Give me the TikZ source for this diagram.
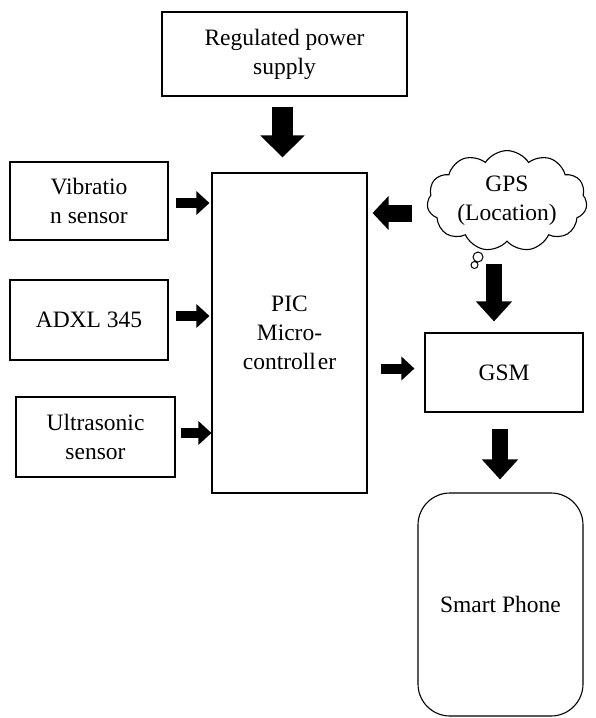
\documentclass[tikz,border=0pt]{standalone}
\usepackage{fontspec}
\setmainfont{LiberationSerif}[Extension=.ttf,UprightFont=*-Regular,BoldFont=*-Bold,ItalicFont=*-Italic]
\usetikzlibrary{arrows.meta,shapes.symbols}
\begin{document}
\begin{tikzpicture}[x=1pt,y=-1pt,
  box/.style={draw,line width=1.1pt,inner sep=0pt,align=center,font=\fontsize{23.5}{29}\selectfont},
  bigarr/.style={line width=21pt,-{Triangle[width=43pt,length=22pt]}},
  midarr/.style={line width=16pt,-{Triangle[width=35pt,length=20pt]}},
  gpsarr/.style={line width=17pt,-{Triangle[width=33pt,length=16pt]}},
  smallarr/.style={line width=10pt,-{Triangle[width=23pt,length=13pt]}}]
\useasboundingbox (0,0) rectangle (595,718);
\node[box,minimum width=245pt,minimum height=84pt] (rps) at (284.5,54) {Regulated power\\supply};
\node[box,minimum width=155pt,minimum height=320pt] (pic) at (289.5,333) {PIC\\Micro-\\controll\kern2pt er};
\node[box,minimum width=158pt,minimum height=78pt] (vib) at (89,201) {Vibratio\\n sensor};
\node[box,minimum width=158pt,minimum height=80pt] (adxl) at (89,320) {ADXL 345};
\node[box,minimum width=159pt,minimum height=80pt] (ultra) at (95.5,437) {Ultrasonic\\sensor};
\node[box,cloud,cloud puffs=11,cloud puff arc=115,aspect=1.7,minimum width=160pt,minimum height=92pt] (gps) at (507,201) {GPS\\(Location)};
\node[box,minimum width=158pt,minimum height=79pt] (gsm) at (504,372.5) {GSM};
\node[box,rounded corners=32pt,minimum width=165pt,minimum height=223pt] (phone) at (500.5,604.5) {Smart Phone};
\draw[line width=1pt] (478,257) circle (5pt) (474.5,265) circle (3.5pt);
\draw[bigarr,shorten <=10pt,shorten >=15pt] ([xshift=-2pt]rps.south) -- ([xshift=-2pt]rps.south |- pic.north);
\draw[smallarr,shorten <=7pt,shorten >=2pt] ([yshift=-2pt]vib.east) -- ([yshift=-2pt]vib.east -| pic.west);
\draw[smallarr,shorten <=7pt,shorten >=2pt] ([yshift=4pt]adxl.east) -- ([yshift=4pt]adxl.east -| pic.west);
\draw[smallarr,shorten <=5pt,shorten >=0pt] ([yshift=4pt]ultra.east) -- ([yshift=4pt]ultra.east -| pic.west);
\draw[gpsarr,shorten <=15pt,shorten >=5pt] ([yshift=-12pt]gps.west) -- ([yshift=-12pt]gps.west -| pic.east);
\draw[midarr,shorten <=22pt,shorten >=11pt] ([xshift=-13pt]gps.south) -- ([xshift=-13pt]gps.south |- gsm.north);
\draw[smallarr,shorten <=13pt,shorten >=10pt] ([yshift=4pt]pic.east |- gsm.west) -- ([yshift=4pt]gsm.west);
\draw[midarr,shorten <=16pt,shorten >=13pt] ([xshift=-4pt]gsm.south) -- ([xshift=-4pt]gsm.south |- phone.north);
\end{tikzpicture}
\end{document}
